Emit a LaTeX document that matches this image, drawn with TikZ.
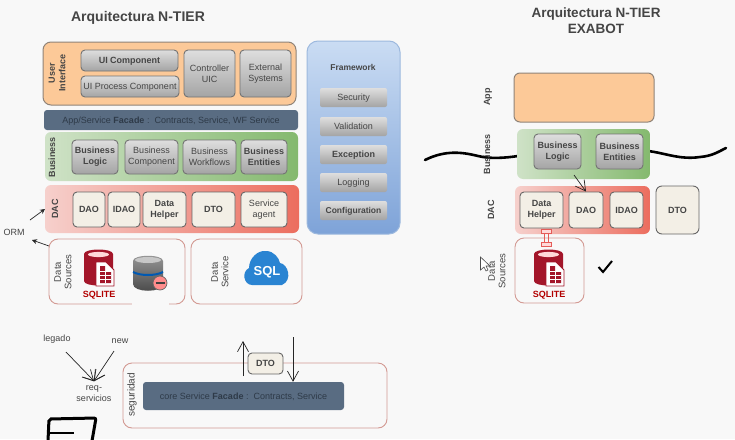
\documentclass[tikz,border=0pt]{standalone}
\usepackage{fontspec}
\setmainfont{Liberation Sans}
\usetikzlibrary{arrows.meta,calc}
\definecolor{bgc}{HTML}{F8F8F8}
\definecolor{txt}{HTML}{454545}
\definecolor{sqred}{HTML}{A3162A}
\definecolor{uifill}{HTML}{FCC998}
\definecolor{uiedge}{HTML}{8F8378}
\definecolor{facfill}{HTML}{596C82}
\definecolor{factxt}{HTML}{2E3A48}
\definecolor{busL}{HTML}{CFE2C7}
\definecolor{busR}{HTML}{84B96E}
\definecolor{dacL}{HTML}{F6D0CC}
\definecolor{dacR}{HTML}{EC6D5E}
\definecolor{frT}{HTML}{CADCF3}
\definecolor{frB}{HTML}{7EA3D8}
\definecolor{frE}{HTML}{9DB9DE}
\definecolor{grT}{HTML}{DEDEDE}
\definecolor{grB}{HTML}{A4A4A4}
\definecolor{cream}{HTML}{F3EFE6}
\definecolor{outl}{HTML}{D39A93}
\definecolor{sqlblue}{HTML}{2A84D2}
\newcommand{\lowr}[1]{\raisebox{-1.8pt}[6pt][3pt]{#1}}
\tikzset{
 base/.style={inner sep=0pt,align=center,font=\fontsize{9}{11}\selectfont,text=txt},
 graybox/.style={base,draw=black!55,line width=.9pt,rounded corners=4pt,top color=grT,bottom color=grB},
 flatbox/.style={base,rounded corners=2pt,top color=grT,bottom color=grB},
 creambox/.style={base,draw=black!60,line width=.9pt,rounded corners=4pt,fill=cream,font=\fontsize{9}{11}\selectfont\bfseries},
 tierui/.style={base,draw=uiedge,line width=1pt,rounded corners=8pt,fill=uifill},
 tierbus/.style={base,rounded corners=6pt,left color=busL,right color=busR},
 tierdac/.style={base,rounded corners=6pt,left color=dacL,right color=dacR},
 tierframe/.style={base,draw=frE,line width=1pt,rounded corners=11pt,top color=frT,bottom color=frB},
 facade/.style={base,rounded corners=3pt,fill=facfill,text=factxt},
 outline/.style={base,draw=outl,line width=.9pt,rounded corners=9pt},
 vlabel/.style={base,rotate=90,font=\fontsize{9}{10.5}\selectfont\bfseries},
 vthin/.style={base,rotate=90,font=\fontsize{9.5}{10.5}\selectfont},
 plain/.style={base},
 boldplain/.style={base,font=\fontsize{9}{11}\selectfont\bfseries},
 title/.style={base,font=\fontsize{14}{16}\selectfont\bfseries},
 conn/.style={draw=black!85,line width=.7pt},
 longarrow/.style={conn,-{Straight Barb[length=10pt,width=11pt]}},
 squiggle/.style={draw=black,line width=2.6pt,line cap=round},
}
% name, x0, y0, x1, y1, style, text
\newcommand{\bx}[7]{\node[#6,minimum width={(#4-(#2))*1pt},minimum height={(#5-(#3))*1pt}] (#1) at ({(#2+#4)/2},{(#3+#5)/2}) {#7};}
\newcommand{\sqliteicon}[2]{%
 \begin{scope}[shift={(#1,#2)}]
  \fill[sqred] (0,4) -- (0,31) .. controls (0,37) and (29,37) .. (29,31) -- (29,4) .. controls (29,-2) and (0,-2) .. (0,4) -- cycle;
  \fill[white!85!red] (14.5,4.5) ellipse (10.5 and 2.6);
  \fill[white,draw=sqred,line width=.8pt] (12,12) -- (22,12) -- (30,20) -- (30,36) -- (12,36) -- cycle;
  \fill[sqred] (16,16) rectangle (21,33) (21,22) rectangle (27,33);
  \draw[white,line width=.6pt] (16,21) -- (27,21) (16,25) -- (27,25) (16,29) -- (27,29) (21,22) -- (21,33);
 \end{scope}}
\begin{document}
\begin{tikzpicture}[x=1pt,y=-1pt]
\useasboundingbox (0,0) rectangle (735,439);
\fill[bgc] (0,0) rectangle (735,439);

% squiggles (behind the right panel)
\draw[squiggle] (425,160) .. controls (445,150) and (462,152) .. (478,156) .. controls (490,159) and (505,158) .. (518,156);
\draw[squiggle] (648,151) .. controls (665,153) and (680,160) .. (700,157) .. controls (712,156) and (718,152) .. (726,148);

% titles
\node[title] (t1) at (138,18) {Arquitectura N-TIER};
\node[title,font=\fontsize{13.5}{16}\selectfont\bfseries] (t2) at (596,21) {Arquitectura N-TIER\\EXABOT};

% left stack
\bx{ui}{43}{42}{296}{105}{tierui}{}
\node[vlabel] (uil) at (57,73) {User\\Interface};
\bx{uic}{81}{50}{178}{71}{graybox,font=\fontsize{9}{11}\selectfont\bfseries}{\lowr{UI Component}}
\bx{uip}{81}{76}{179}{97}{graybox}{\lowr{UI Process Component}}
\bx{ctl}{184}{50}{235}{97}{graybox}{Controller\\UIC}
\bx{ext}{240}{50}{291}{97}{graybox}{External\\Systems}
\bx{fac}{44}{110}{298}{130}{facade}{\lowr{App/Service \textbf{Facade} :\ \ Contracts, Service, WF Service}}
\bx{bus}{45}{132}{298}{181}{tierbus}{}
\node[vlabel] (busl) at (52,157) {Business};
\bx{bl}{72}{140}{118}{174}{graybox,font=\fontsize{9}{11}\selectfont\bfseries}{Business\\Logic}
\bx{bc}{125}{140}{178}{174}{graybox}{Business\\Component}
\bx{bw}{183}{140}{236}{174}{graybox}{Business\\Workflows}
\bx{be}{241}{140}{287}{174}{graybox,font=\fontsize{9}{11}\selectfont\bfseries}{Business\\Entities}
\bx{dac}{45}{185}{299}{233}{tierdac}{}
\node[vlabel] (dacl) at (55,209) {DAC};
\bx{dao}{73}{192}{105}{227}{creambox}{DAO}
\bx{idao}{108}{192}{140}{227}{creambox}{IDAO}
\bx{dh}{143}{192}{186}{227}{creambox}{Data\\Helper}
\bx{dto}{192}{192}{235}{227}{creambox}{DTO}
\bx{sa}{241}{192}{287}{227}{creambox,font=\fontsize{9}{11}\selectfont}{Service\\agent}

% framework
\bx{fw}{307}{41}{400}{234}{tierframe}{}
\node[boldplain,font=\fontsize{8.5}{10}\selectfont\bfseries] (fwl) at (353,67) {Framework};
\bx{f1}{320}{88}{387}{107}{flatbox}{\lowr{Security}}
\bx{f2}{320}{117}{387}{136}{flatbox}{\lowr{Validation}}
\bx{f3}{320}{145}{387}{164}{flatbox,font=\fontsize{9}{11}\selectfont\bfseries}{\lowr{Exception}}
\bx{f4}{320}{173}{387}{192}{flatbox}{\lowr{Logging}}
\bx{f5}{320}{201}{387}{220}{flatbox,font=\fontsize{8.5}{11}\selectfont\bfseries}{\lowr{Configuration}}

% data sources
\bx{ds}{49}{239}{185}{304}{outline}{}
\draw[bgc,line width=1.4pt] (132,304) -- (169,304);
\node[vthin] (dsl) at (63,272) {Data\\Sources};
\sqliteicon{84}{250}
\node[boldplain,text=red!70!black] (sq1) at (99,295) {SQLITE};
% drum icon
\shade[top color=black!40,bottom color=black!72] (133,261) -- (133,284) .. controls (133,293) and (163,293) .. (163,284) -- (163,261) .. controls (163,254) and (133,254) .. (133,261) -- cycle;
\fill[black!22] (148,260) ellipse (13 and 3);
\draw[blue!50!cyan!70!black,line width=2pt] (133,272) .. controls (140,276) and (156,276) .. (163,272);
\fill[red!45!white,draw=black!60,line width=.7pt] (160,283) circle (7);
\draw[black!75,line width=1.6pt] (155.5,283) -- (164.5,283);

\bx{dsv}{191}{239}{302}{304}{outline}{}
\node[vthin] (dsvl) at (220,272) {Data\\Service};
\fill[sqlblue] (252,285) .. controls (244,285) and (241,272) .. (249,268) .. controls (249,258) and (258,250) .. (266,251) .. controls (274,251) and (279,258) .. (280,263) .. controls (288,264) and (293,280) .. (282,285) -- cycle;
\node[base,text=white,font=\fontsize{13}{15}\selectfont\bfseries] (sql) at (267,272) {SQL};

% ORM
\node[plain] (orm) at (14,232) {ORM};
\coordinate (ormA) at (30,220); \coordinate (ormAt) at (45,209);
\coordinate (ormB) at (49,246); \coordinate (ormBt) at (32,240);
\draw[conn,-{Stealth[length=5pt,width=5pt]}] (ormA) -- (ormAt);
\draw[conn,-{Stealth[length=5pt,width=5pt]}] (ormB) -- (ormBt);

% lower left
\node[plain] (leg) at (57,339) {legado};
\node[plain] (new) at (120,341) {new};
\node[plain] (req) at (94,394) {req-\\servicios};
\coordinate (legS) at (66,352); \coordinate (newS) at (114,351); \coordinate (reqT) at (94,381);
\draw[longarrow] (legS) -- (reqT);
\draw[longarrow] (newS) -- (reqT);
\draw[conn] (reqT) -- (96,369) (reqT) -- (82,377) (reqT) -- (105,375);
\draw[draw=black,line width=3pt,rounded corners=2pt] (48,441) -- (49,419) -- (96,418) -- (92,441);
\draw[draw=black,line width=2.4pt] (50,433) -- (74,433);

% seguridad
\bx{seg}{123}{363}{387}{428}{outline}{}
\node[vthin,font=\fontsize{10}{11}\selectfont] (segl) at (132,395) {seguridad};
\bx{core}{143}{382}{344}{410}{facade}{\lowr{core Service \textbf{Facade} :\ \ Contracts, Service}}
\bx{dto2}{248}{353}{283}{374}{creambox}{DTO}
\coordinate (upS) at (243,376); \coordinate (upT) at (243,341); \coordinate (dnS) at (293,337);
\draw[longarrow] (upS) -- (upT);
\draw[longarrow] (dnS) -- (dnS |- core.north);

% right stack
\node[vlabel] (appl) at (488,97) {App};
\bx{app}{514}{73}{654}{122}{tierui,rounded corners=6pt}{}
\node[vlabel] (busr) at (487,154) {Business};
\bx{busR}{517}{129}{650}{179}{tierbus}{}
\bx{blR}{534}{134}{581}{169}{graybox,font=\fontsize{9}{11}\selectfont\bfseries}{Business\\Logic}
\bx{beR}{596}{134}{643}{169}{graybox,font=\fontsize{9}{11}\selectfont\bfseries}{Business\\Entities}
\node[vlabel] (dacr) at (491,210) {DAC};
\bx{dacR}{515}{186}{650}{234}{tierdac}{}
\bx{dhR}{520}{192}{563}{228}{creambox}{Data\\Helper}
\bx{daoR}{569}{192}{603}{228}{creambox}{DAO}
\bx{idaoR}{610}{192}{643}{228}{creambox}{IDAO}
\bx{dtoR}{656}{186}{699}{234}{creambox,rounded corners=6pt}{DTO}
\bx{dsR}{515}{238}{584}{303}{outline}{}
\node[vthin] (dsrl) at (497,271) {Data\\Sources};
\sqliteicon{534}{250}
\node[boldplain,text=red!70!black] (sq2) at (549,295) {SQLITE};

% connectors, right
\coordinate (blO) at (574,175);
\draw[longarrow] (blO) -- (daoR.north);
\draw[draw=outl!60!red,line width=.7pt,fill=red!15!white] (541.5,229.5) rectangle (551,233.5) (541.5,242.5) rectangle (551,246.5);
\draw[draw=outl!60!red,line width=.7pt] (544,233.5) -- (544,242.5) (548.5,233.5) -- (548.5,242.5);

% check mark and pointer
\draw[draw=black,line width=2pt,line join=miter] (598.5,267) -- (603,272) -- (612,261);
\fill[white,draw=black!70,line width=.6pt] (480.5,257) -- (480.5,270) -- (484,267) -- (486,271) -- (488,270) -- (486,266) -- (490,266) -- cycle;
\end{tikzpicture}
\end{document}
